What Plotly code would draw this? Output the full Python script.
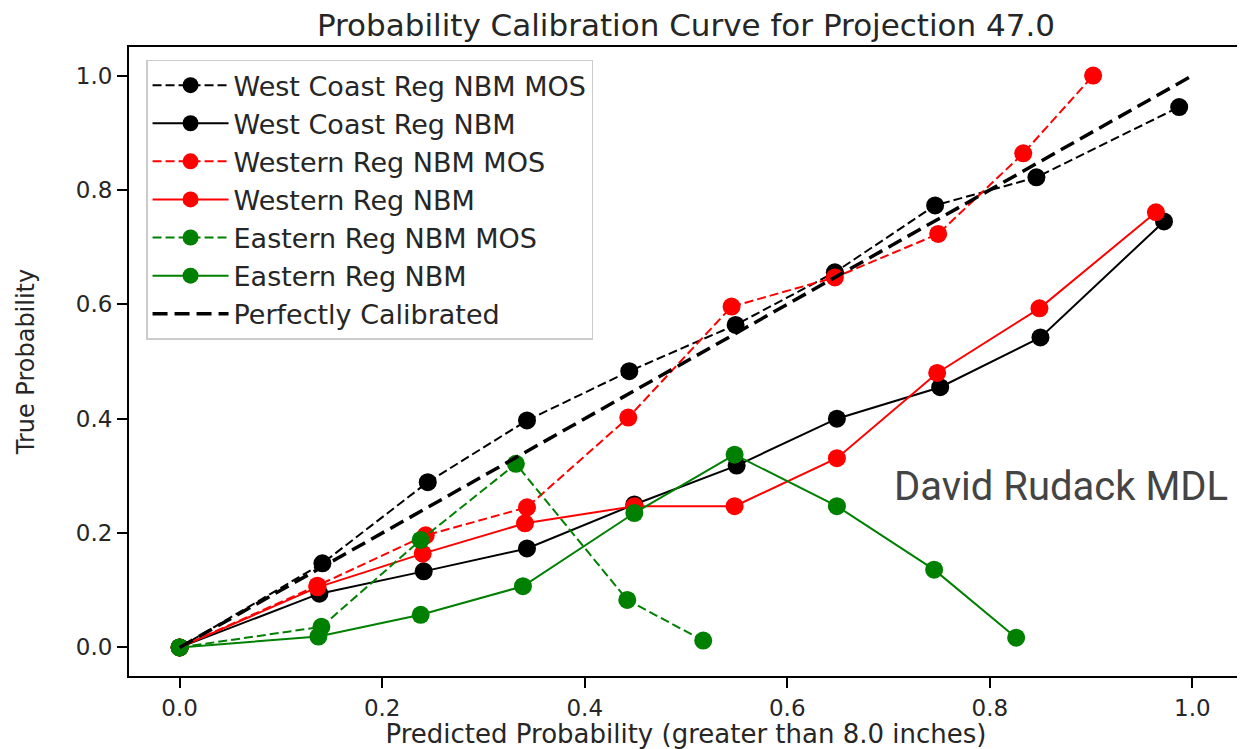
import plotly.graph_objects as go

# ---- data ----
wc_mos_x = [0.0, 0.141, 0.245, 0.343, 0.444, 0.549, 0.647, 0.746, 0.846, 0.987]
wc_mos_y = [0.0, 0.147, 0.289, 0.397, 0.483, 0.564, 0.656, 0.773, 0.822, 0.945]

wc_nbm_x = [0.0, 0.138, 0.241, 0.343, 0.449, 0.550, 0.649, 0.751, 0.850, 0.972]
wc_nbm_y = [0.0, 0.094, 0.133, 0.173, 0.250, 0.318, 0.400, 0.455, 0.542, 0.745]

w_mos_x = [0.0, 0.136, 0.243, 0.343, 0.443, 0.545, 0.647, 0.749, 0.833, 0.902]
w_mos_y = [0.0, 0.108, 0.196, 0.245, 0.402, 0.596, 0.647, 0.723, 0.864, 1.0]

w_nbm_x = [0.0, 0.136, 0.240, 0.341, 0.449, 0.548, 0.649, 0.748, 0.849, 0.964]
w_nbm_y = [0.0, 0.105, 0.164, 0.217, 0.247, 0.247, 0.331, 0.480, 0.593, 0.761]

e_mos_x = [0.0, 0.140, 0.238, 0.332, 0.442, 0.517]
e_mos_y = [0.0, 0.036, 0.188, 0.321, 0.083, 0.012]

e_nbm_x = [0.0, 0.137, 0.238, 0.339, 0.449, 0.548, 0.649, 0.745, 0.826]
e_nbm_y = [0.0, 0.019, 0.057, 0.107, 0.235, 0.337, 0.247, 0.136, 0.017]

perfect_x = [0.0, 1.0]
perfect_y = [0.0, 1.0]

tick_vals = [0.0, 0.2, 0.4, 0.6, 0.8, 1.0]
tick_text = ["0.0", "0.2", "0.4", "0.6", "0.8", "1.0"]

series = [
    ("West Coast Reg NBM MOS", wc_mos_x, wc_mos_y, "black", "9px,4px"),
    ("West Coast Reg NBM", wc_nbm_x, wc_nbm_y, "black", "solid"),
    ("Western Reg NBM MOS", w_mos_x, w_mos_y, "#ff0000", "9px,4px"),
    ("Western Reg NBM", w_nbm_x, w_nbm_y, "#ff0000", "solid"),
    ("Eastern Reg NBM MOS", e_mos_x, e_mos_y, "#008000", "9px,4px"),
    ("Eastern Reg NBM", e_nbm_x, e_nbm_y, "#008000", "solid"),
]

FONT = "DejaVu Sans"
TXT = "#262626"

fig = go.Figure()
for name, xs, ys, col, dash in series:
    fig.add_trace(go.Scatter(
        x=xs, y=ys, mode="lines+markers", name=name,
        line=dict(color=col, width=2, dash=dash),
        marker=dict(color=col, size=18, symbol="circle"),
    ))

fig.add_trace(go.Scatter(
    x=perfect_x, y=perfect_y, mode="lines", name="Perfectly Calibrated",
    line=dict(color="black", width=3.5, dash="15px,7px"),
))

axis_common = dict(
    range=[-0.05, 1.05],
    tickvals=tick_vals, ticktext=tick_text,
    showgrid=False, zeroline=False,
    showline=True, linecolor="black", linewidth=2, mirror=True,
    ticks="outside", ticklen=10, tickwidth=2, tickcolor="black",
    tickfont=dict(family=FONT, size=23, color=TXT),
)

fig.update_xaxes(**axis_common,
                 title=dict(text="Predicted Probability (greater than 8.0 inches)",
                            font=dict(family=FONT, size=26, color=TXT),
                            standoff=0))
fig.update_yaxes(**axis_common,
                 title=dict(text="True Probability",
                            font=dict(family=FONT, size=24, color=TXT),
                            standoff=34))

fig.add_annotation(
    text="David Rudack MDL", xref="paper", yref="paper",
    x=0.8366, y=0.3005, xanchor="center", yanchor="middle",
    showarrow=False, font=dict(family="Roboto", size=40, color="#444444"),
)

# the page body has an 8px margin, so the figure is sized to fit the 1245x749 window
fig.update_layout(
    width=1237, height=741,
    margin=dict(l=121, r=2, t=39, b=73, autoexpand=False),
    paper_bgcolor="white", plot_bgcolor="white",
    title=dict(text="Probability Calibration Curve for Projection 47.0",
               font=dict(family=FONT, size=31, color=TXT),
               x=0.5, xref="paper", xanchor="center",
               y=1 - 17 / 741, yanchor="middle", yref="container"),
    legend=dict(
        x=0.0153, y=0.98, xanchor="left", yanchor="top",
        bgcolor="rgba(255,255,255,0.8)", bordercolor="#cccccc", borderwidth=1.5,
        font=dict(family=FONT, size=27, color=TXT),
        itemwidth=76, tracegroupgap=0,
    ),
    showlegend=True,
)

fig.write_html("out.html")
